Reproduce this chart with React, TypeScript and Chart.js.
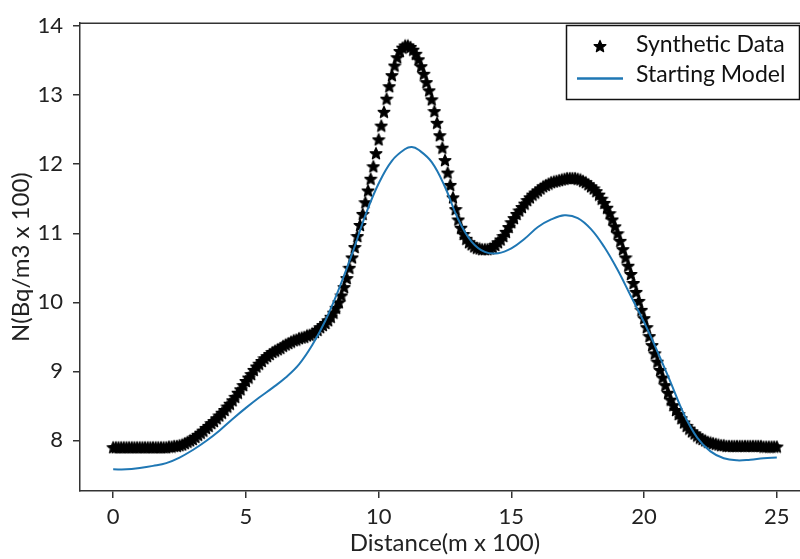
import React, { useEffect, useRef } from "react";
import { Chart, registerables } from "chart.js";

Chart.register(...registerables);

// Synthetic data: distance 0 .. 25 sampled every 0.1 (m x 100)
const syntheticStep = 0.1;
const syntheticValues = [
  7.90, 7.90, 7.90, 7.90, 7.90, 7.90, 7.90, 7.90, 7.90, 7.90,
  7.90, 7.90, 7.90, 7.90, 7.90, 7.90, 7.90, 7.90, 7.90, 7.90,
  7.90, 7.91, 7.91, 7.92, 7.92, 7.93, 7.94, 7.96, 7.98, 8.00,
  8.02, 8.05, 8.08, 8.11, 8.14, 8.18, 8.21, 8.25, 8.28, 8.32,
  8.36, 8.40, 8.44, 8.49, 8.53, 8.58, 8.63, 8.69, 8.74, 8.80,
  8.86, 8.91, 8.96, 9.02, 9.07, 9.11, 9.15, 9.19, 9.22, 9.25,
  9.28, 9.30, 9.32, 9.34, 9.37, 9.39, 9.41, 9.43, 9.45, 9.46,
  9.48, 9.49, 9.50, 9.52, 9.53, 9.55, 9.57, 9.60, 9.64, 9.67,
  9.70, 9.74, 9.79, 9.85, 9.92, 10.00, 10.10, 10.22, 10.35, 10.50,
  10.65, 10.80, 10.96, 11.12, 11.28, 11.45, 11.62, 11.79, 11.97, 12.16,
  12.36, 12.56, 12.76, 12.95, 13.13, 13.29, 13.43, 13.55, 13.64, 13.69,
  13.72, 13.72, 13.70, 13.66, 13.60, 13.52, 13.42, 13.31, 13.19, 13.07,
  12.94, 12.77, 12.60, 12.42, 12.24, 12.06, 11.88, 11.70, 11.52, 11.35,
  11.20, 11.08, 10.99, 10.92, 10.87, 10.84, 10.81, 10.79, 10.78, 10.77,
  10.77, 10.77, 10.78, 10.80, 10.83, 10.87, 10.91, 10.96, 11.02, 11.09,
  11.16, 11.22, 11.28, 11.33, 11.38, 11.43, 11.48, 11.52, 11.56, 11.59,
  11.62, 11.65, 11.68, 11.70, 11.72, 11.74, 11.75, 11.76, 11.77, 11.78,
  11.79, 11.80, 11.80, 11.80, 11.80, 11.79, 11.78, 11.76, 11.74, 11.71,
  11.68, 11.65, 11.61, 11.56, 11.50, 11.44, 11.37, 11.29, 11.20, 11.10,
  11.00, 10.89, 10.77, 10.65, 10.53, 10.41, 10.28, 10.15, 10.02, 9.89,
  9.77, 9.64, 9.51, 9.38, 9.26, 9.14, 9.02, 8.91, 8.80, 8.69,
  8.59, 8.51, 8.44, 8.38, 8.32, 8.26, 8.21, 8.17, 8.13, 8.10,
  8.07, 8.04, 8.02, 8.00, 7.98, 7.97, 7.96, 7.95, 7.94, 7.93,
  7.93, 7.92, 7.92, 7.92, 7.92, 7.92, 7.92, 7.92, 7.92, 7.92,
  7.92, 7.92, 7.92, 7.92, 7.92, 7.91, 7.91, 7.91, 7.91, 7.91,
  7.91,
];

// Starting model
const modelDistance = [
  0, 0.5, 1, 1.5, 2, 2.5, 3, 3.5, 4, 4.5, 5, 5.5, 6, 6.5, 7, 7.5, 8, 8.5, 9, 9.5,
  10, 10.5, 11, 11.25, 11.5, 12, 12.5, 13, 13.5, 14, 14.5, 15, 15.5, 16, 16.5, 17,
  17.5, 18, 18.5, 19, 19.5, 20, 20.5, 21, 21.5, 22, 22.5, 23, 23.5, 24, 24.5, 25,
];
const modelValues = [
  7.58, 7.58, 7.60, 7.63, 7.67, 7.75, 7.86, 7.99, 8.14, 8.31, 8.47, 8.62, 8.76, 8.91, 9.10, 9.38, 9.74, 10.19, 10.70, 11.26,
  11.72, 12.05, 12.22, 12.25, 12.21, 12.03, 11.67, 11.20, 10.88, 10.73, 10.71, 10.78, 10.92, 11.09, 11.20, 11.26,
  11.22, 11.06, 10.80, 10.47, 10.09, 9.71, 9.29, 8.84, 8.38, 8.04, 7.84, 7.74, 7.71, 7.72, 7.74, 7.75,
];

const xTickValues = [0, 5, 10, 15, 20, 25];
const yTickValues = [8, 9, 10, 11, 12, 13, 14];
const legendLabels = ["Synthetic Data", "Starting Model"];
const xTitle = "Distance(m x 100)";
const yTitle = "N(Bq/m3 x 100)";

const BLUE = "#1f77b4";
const AXIS = "#333333";
const TEXT = "#222222";
const FONT = "Lato";

function makeStar(size: number): HTMLCanvasElement {
  const c = document.createElement("canvas");
  c.width = size;
  c.height = size;
  const ctx = c.getContext("2d")!;
  const cx = size / 2;
  const cy = size / 2 + 0.6;
  const R = size / 2 - 0.8;
  const r = R * 0.45;
  ctx.beginPath();
  for (let i = 0; i < 10; i++) {
    const a = -Math.PI / 2 + (i * Math.PI) / 5;
    const rr = i % 2 === 0 ? R : r;
    const px = cx + rr * Math.cos(a);
    const py = cy + rr * Math.sin(a);
    if (i === 0) ctx.moveTo(px, py);
    else ctx.lineTo(px, py);
  }
  ctx.closePath();
  ctx.fillStyle = "#000";
  ctx.fill();
  ctx.strokeStyle = "#000";
  ctx.lineWidth = 1.2;
  ctx.lineJoin = "round";
  ctx.stroke();
  return c;
}

export default function App() {
  const ref = useRef<HTMLCanvasElement | null>(null);

  useEffect(() => {
    document.documentElement.style.overflow = "hidden";
    document.body.style.overflow = "hidden";
    const canvas = ref.current;
    if (!canvas) return;
    const star = makeStar(14);

    const syntheticPoints = syntheticValues.map((v, i) => ({
      x: Math.round(i * syntheticStep * 10) / 10,
      y: v,
    }));
    const modelPoints = modelValues.map((v, i) => ({ x: modelDistance[i], y: v }));

    const framePlugin = {
      id: "frameAndLegend",
      afterDraw(chart: any) {
        const { ctx, chartArea } = chart;
        ctx.save();
        ctx.strokeStyle = AXIS;
        ctx.lineWidth = 1.5;
        ctx.beginPath();
        ctx.moveTo(chartArea.left, chartArea.top);
        ctx.lineTo(chartArea.right, chartArea.top);
        ctx.stroke();
        const bx = 566, by = 25, bw = 233, bh = 74;
        ctx.fillStyle = "#fff";
        ctx.fillRect(bx, by, bw, bh);
        ctx.strokeStyle = "#111";
        ctx.lineWidth = 1.5;
        ctx.strokeRect(bx + 0.5, by + 0.5, bw, bh);
        ctx.drawImage(star, 600 - star.width / 2, 46 - star.height / 2);
        ctx.strokeStyle = BLUE;
        ctx.lineWidth = 2.5;
        ctx.beginPath();
        ctx.moveTo(577, 78.5);
        ctx.lineTo(623, 78.5);
        ctx.stroke();
        ctx.fillStyle = "#111";
        ctx.font = `23px ${FONT}`;
        ctx.textBaseline = "alphabetic";
        ctx.textAlign = "left";
        ctx.fillText(legendLabels[0], 636, 52);
        ctx.fillText(legendLabels[1], 636, 82);
        ctx.restore();
      },
    };

    const chart = new Chart(canvas, {
      type: "line",
      data: {
        datasets: [
          {
            label: legendLabels[1],
            data: modelPoints,
            borderColor: BLUE,
            backgroundColor: BLUE,
            borderWidth: 2,
            pointRadius: 0,
            tension: 0.4,
            fill: false,
            order: 0,
          },
          {
            label: legendLabels[0],
            data: syntheticPoints,
            showLine: false,
            pointStyle: star as any,
            pointRadius: 7,
            borderColor: "#000",
            backgroundColor: "#000",
            order: 1,
          },
        ],
      },
      options: {
        responsive: false,
        maintainAspectRatio: false,
        animation: false,
        layout: { padding: { top: 16, right: 20, left: 0, bottom: 0 } },
        plugins: {
          legend: { display: false },
          tooltip: { enabled: false },
        },
        scales: {
          x: {
            type: "linear",
            min: -1.25,
            max: 26.25,
            afterBuildTicks: (axis: any) => {
              axis.ticks = xTickValues.map((v) => ({ value: v }));
            },
            afterFit: (scale: any) => {
              scale.height = 68;
            },
            grid: {
              drawOnChartArea: false,
              drawTicks: true,
              tickLength: 7,
              color: AXIS,
              lineWidth: 1.5,
            },
            border: { display: true, color: AXIS, width: 1.5 },
            ticks: {
              color: TEXT,
              font: { family: FONT, size: 22 },
              padding: 6,
              maxRotation: 0,
              autoSkip: false,
              callback: (v: any) => String(v),
            },
            title: {
              display: true,
              text: xTitle,
              color: TEXT,
              font: { family: FONT, size: 24, lineHeight: 1.2 },
              padding: { top: 0, bottom: 1 },
            },
          },
          y: {
            type: "linear",
            min: 7.266,
            max: 14.043,
            afterBuildTicks: (axis: any) => {
              axis.ticks = yTickValues.map((v) => ({ value: v }));
            },
            afterFit: (scale: any) => {
              scale.width = 80;
            },
            grid: {
              drawOnChartArea: false,
              drawTicks: true,
              tickLength: 7,
              color: AXIS,
              lineWidth: 1.5,
            },
            border: { display: true, color: AXIS, width: 1.5 },
            ticks: {
              color: TEXT,
              font: { family: FONT, size: 22 },
              padding: 10,
              autoSkip: false,
              callback: (v: any) => String(v),
            },
            title: {
              display: true,
              text: yTitle,
              color: TEXT,
              font: { family: FONT, size: 24, lineHeight: 1.2 },
              padding: { top: 7, bottom: 0 },
            },
          },
        },
      },
      plugins: [framePlugin],
    } as any);

    return () => {
      chart.destroy();
    };
  }, []);

  return (
    <div style={{ position: "absolute", left: 0, top: 0, width: 830, height: 559, background: "#fff" }}>
      <canvas ref={ref} width={830} height={559} style={{ display: "block" }} />
    </div>
  );
}
